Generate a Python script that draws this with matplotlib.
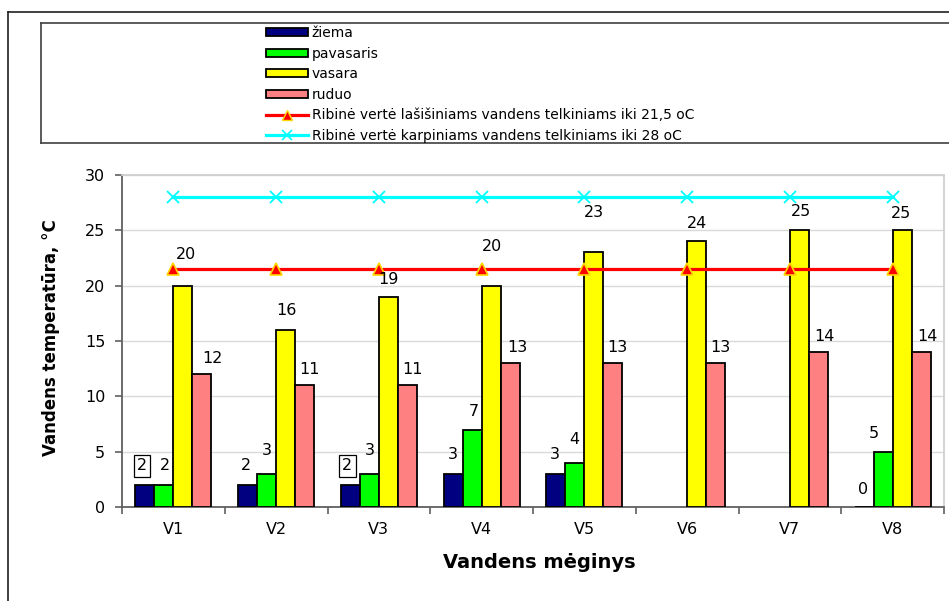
import matplotlib
matplotlib.use('Agg')
import matplotlib.pyplot as plt
import numpy as np
from matplotlib.lines import Line2D
from matplotlib.patches import Patch

# ---------------- data ----------------
categories = ['V1', 'V2', 'V3', 'V4', 'V5', 'V6', 'V7', 'V8']
ziema = [2, 2, 2, 3, 3, np.nan, np.nan, 0]
pavasaris = [2, 3, 3, 7, 4, np.nan, np.nan, 5]
vasara = [20, 16, 19, 20, 23, 24, 25, 25]
ruduo = [12, 11, 11, 13, 13, 13, 14, 14]
lasisiniai = [21.5] * 8
karpiniai = [28] * 8
series_names = ['žiema', 'pavasaris', 'vasara', 'ruduo']
line_names = ['Ribinė vertė lašišiniams vandens telkiniams iki 21,5 oC',
              'Ribinė vertė karpiniams vandens telkiniams iki 28 oC']

# ---------------- style / layout ----------------
colors = ['#000080', '#00FF00', '#FFFF00', '#FF8080']
# label offsets (pixels) from the bar top-centre: (dx, dy)
label_offsets = [
    [(-3, 19), (-2, 19), (-3, 19), (0, 19), (-1, 19), None, None, (-1, 18)],
    [(1, 19), (0, 23), (0, 23), (2, 18), (-1, 23), None, None, (-9, 18)],
    [(3, 31), (1, 19), (0, 17), (1, 39), (0, 40), (0, 18), (2, 19), (-1, 17)],
    [(11, 16), (5, 16), (5, 16), (7, 16), (4, 16), (5, 16), (6, 16), (6, 16)],
]
boxed_labels = [(0, 0), (0, 2)]  # (series, category) drawn with a frame

W, H = 949, 601
plt.rcParams['font.family'] = ['DejaVu Sans']
fig = plt.figure(figsize=(W / 100, H / 100), dpi=100)

def fx(px):
    return px / W

def fy(py):
    return 1 - py / H

ax = fig.add_axes([fx(122), fy(507), fx(944) - fx(122), fy(175) - fy(507)])

x = np.arange(len(categories))
bw = 0.185
data = [ziema, pavasaris, vasara, ruduo]
for s, (vals, col, name) in enumerate(zip(data, colors, series_names)):
    xs = x + (s - 1.5) * bw
    ax.bar(xs, vals, width=bw, color=col, edgecolor='black', linewidth=1.3,
           label=name, zorder=3)
    for i, v in enumerate(vals):
        if np.isnan(v) or label_offsets[s][i] is None:
            continue
        dx, dy = label_offsets[s][i]
        kw = {}
        if (s, i) in boxed_labels:
            kw['bbox'] = dict(boxstyle='square,pad=0.2', fc='white', ec='black', lw=0.9)
        ax.annotate(f'{v:g}', xy=(xs[i], v), xytext=(dx, dy),
                    textcoords='offset pixels', ha='center', va='center',
                    fontsize=11.5, color='black', zorder=6, **kw)

ax.plot(x, lasisiniai, color='#FF0000', lw=2.3, marker='^', markersize=9,
        markerfacecolor='#FF0000', markeredgecolor='#FFD700', markeredgewidth=1.2,
        zorder=5, label=line_names[0])
ax.plot(x, karpiniai, color='#00FFFF', lw=2.3, marker='x', markersize=9,
        markeredgewidth=1.3, zorder=5, label=line_names[1])

ax.set_xlim(-0.5, len(categories) - 0.5)
ax.set_ylim(0, 30)
ax.set_yticks(np.arange(0, 31, 5))
ax.yaxis.grid(True, color='#d9d9d9', lw=1.0, zorder=0)
ax.set_axisbelow(True)
ax.set_xticks(x)
ax.set_xticklabels(categories)
ax.set_xticks(np.arange(-0.5, len(categories)), minor=True)
ax.tick_params(axis='x', which='major', length=0, pad=11, labelsize=11.5)
ax.tick_params(axis='x', which='minor', length=5, width=1.2, color='#606060', direction='out')
ax.tick_params(axis='y', length=5, width=1.2, color='#606060', direction='out', pad=7,
               labelsize=11.5)
for sp in ['left', 'bottom']:
    ax.spines[sp].set_color('#606060')
    ax.spines[sp].set_linewidth(1.3)
for sp in ['top', 'right']:
    ax.spines[sp].set_color('#d0d0d0')
    ax.spines[sp].set_linewidth(1.3)

fig.text(fx(51), fy(338), 'Vandens temperatūra, °C', rotation=90, ha='center',
         va='center', fontsize=12, fontweight='bold')
fig.text(fx(539), fy(563), 'Vandens mėginys', ha='center', va='center',
         fontsize=14, fontweight='bold')

# legend
handles = [Patch(facecolor=c, edgecolor='black', linewidth=1.3) for c in colors]
handles += [
    Line2D([], [], color='#FF0000', lw=2.3, marker='^', markersize=7,
           markerfacecolor='#FF0000', markeredgecolor='#FFD700', markeredgewidth=1.0),
    Line2D([], [], color='#00FFFF', lw=2.3, marker='x', markersize=7, markeredgewidth=1.2),
]
labels = series_names + line_names
fig.legend(handles, labels, loc='upper left', bbox_to_anchor=(fx(266), fy(26)),
           frameon=False, fontsize=10, handlelength=3.0, handleheight=0.5,
           handletextpad=0.3, labelspacing=0.47, borderpad=0, borderaxespad=0)

# frames
def fline(x0, y0, x1, y1, **kw):
    fig.add_artist(Line2D([fx(x0), fx(x1)], [fy(y0), fy(y1)], transform=fig.transFigure, **kw))

fline(8, 12, 949, 12, color='#202020', lw=1.2)
fline(8, 12, 8, 601, color='#202020', lw=1.2)
fline(41, 23, 949, 23, color='#404040', lw=1.2)
fline(41, 23, 41, 143, color='#404040', lw=1.2)
fline(41, 143, 949, 143, color='#404040', lw=1.2)

fig.savefig('out.png', dpi=100)
